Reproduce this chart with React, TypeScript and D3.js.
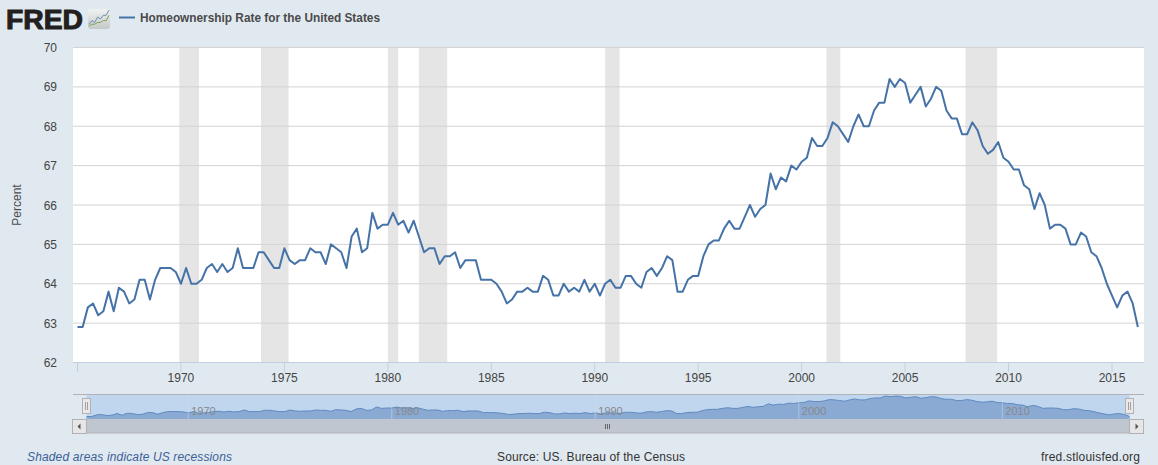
import React from "react";
import * as d3 from "d3";

const START_YEAR = 1965;
const rates = [
  62.9, 62.9, 63.4, 63.5, 63.2, 63.3, 63.8, 63.3, 63.9, 63.8, 63.5, 63.6,
  64.1, 64.1, 63.6, 64.1, 64.4, 64.4, 64.4, 64.3, 64.0, 64.4, 64.0, 64.0,
  64.1, 64.4, 64.5, 64.3, 64.5, 64.3, 64.4, 64.9, 64.4, 64.4, 64.4, 64.8,
  64.8, 64.6, 64.4, 64.4, 64.9, 64.6, 64.5, 64.6, 64.6, 64.9, 64.8, 64.8,
  64.5, 65.0, 64.9, 64.8, 64.4, 65.2, 65.4, 64.8, 64.9, 65.8, 65.4, 65.5,
  65.5, 65.8, 65.5, 65.6, 65.3, 65.6, 65.2, 64.8, 64.9, 64.9, 64.5, 64.7,
  64.7, 64.8, 64.4, 64.6, 64.6, 64.6, 64.1, 64.1, 64.1, 64.0, 63.8, 63.5,
  63.6, 63.8, 63.8, 63.9, 63.8, 63.8, 64.2, 64.1, 63.7, 63.7, 64.0, 63.8,
  63.9, 63.8, 64.1, 63.8, 64.0, 63.7, 64.0, 64.1, 63.9, 63.9, 64.2, 64.2,
  64.0, 63.9, 64.3, 64.4, 64.2, 64.4, 64.7, 64.6, 63.8, 63.8, 64.1, 64.2,
  64.2, 64.7, 65.0, 65.1, 65.1, 65.4, 65.6, 65.4, 65.4, 65.7, 66.0, 65.7,
  65.9, 66.0, 66.8, 66.4, 66.7, 66.6, 67.0, 66.9, 67.1, 67.2, 67.7, 67.5,
  67.5, 67.7, 68.1, 68.0, 67.8, 67.6, 68.0, 68.3, 68.0, 68.0, 68.4, 68.6,
  68.6, 69.2, 69.0, 69.2, 69.1, 68.6, 68.8, 69.0, 68.5, 68.7, 69.0, 68.9,
  68.4, 68.2, 68.2, 67.8, 67.8, 68.1, 67.9, 67.5, 67.3, 67.4, 67.6, 67.2,
  67.1, 66.9, 66.9, 66.5, 66.4, 65.9, 66.3, 66.0, 65.4, 65.5, 65.5, 65.4,
  65.0, 65.0, 65.3, 65.2, 64.8, 64.7, 64.4, 64.0, 63.7, 63.4, 63.7, 63.8,
  63.5, 62.9,
];
const recessions: [number, number][] = [
  [1969.92, 1970.87],
  [1973.87, 1975.2],
  [1980.0, 1980.5],
  [1981.5, 1982.87],
  [1990.5, 1991.2],
  [2001.2, 2001.87],
  [2007.92, 2009.45],
];
const yTicks = [62, 63, 64, 65, 66, 67, 68, 69, 70];
const xTicks = [1965, 1970, 1975, 1980, 1985, 1990, 1995, 2000, 2005, 2010, 2015];
const navTicks = [1970, 1980, 1990, 2000, 2010];
const logoLineA = [1, 3, 2, 5, 4, 6, 6, 9];
const logoLineB = [0, 1, 1, 2, 2, 3, 3, 6];

const FONT = "'Liberation Sans', Arial, sans-serif";
const BG = "#E1E9F0";
const LINE = "#4572A7";

type P = { t: number; v: number };
const points: P[] = rates.map((v, i) => ({ t: START_YEAR + i / 4, v }));

export default function App() {
  const x = d3.scaleLinear().domain([1965, 2015]).range([77.5, 1112]);
  const y = d3.scaleLinear().domain([62, 70]).range([362.5, 47.5]);
  const nx = d3.scaleLinear().domain([1965, 2016.25]).range([86.5, 1129.5]);
  const ny = d3.scaleLinear().domain([62.9, 69.2]).range([416.5, 396]);

  const line = d3.line<P>().x((d) => x(d.t)).y((d) => y(d.v));
  const navArea = d3.area<P>().x((d) => nx(d.t)).y0(419).y1((d) => ny(d.v));
  const navLine = d3.line<P>().x((d) => nx(d.t)).y((d) => ny(d.v));

  const lx = d3.scaleLinear().domain([0, logoLineA.length - 1]).range([89, 109]);
  const ly = d3.scaleLinear().domain([0, 9]).range([26, 10]);
  const logoLine = d3.line<number>().x((_, i) => lx(i)).y((d) => ly(d));

  return (
    <svg
      width={1158}
      height={465}
      style={{ position: "fixed", left: 0, top: 0, display: "block", fontFamily: FONT }}
    >
      <defs>
        <linearGradient id="logoBg" x1="0" y1="0" x2="0" y2="1">
          <stop offset="0" stopColor="#F0F3F2" />
          <stop offset="1" stopColor="#C4C8C6" />
        </linearGradient>
      </defs>
      <rect width={1158} height={465} fill={BG} />

      {/* header */}
      <text
        x={6}
        y={28.5}
        fontSize={27}
        fontWeight={700}
        fill="#231F20"
        stroke="#231F20"
        strokeWidth={1}
        textLength={77}
        lengthAdjust="spacingAndGlyphs"
      >
        FRED
      </text>
      <rect x={88} y={9} width={22} height={20} rx={3} fill="url(#logoBg)" />
      <path d={logoLine(logoLineA) ?? ""} fill="none" stroke="#6C8FB0" strokeWidth={1} />
      <path d={logoLine(logoLineB) ?? ""} fill="none" stroke="#7FA052" strokeWidth={1} />
      <line x1={119} x2={135} y1={17.5} y2={17.5} stroke={LINE} strokeWidth={2} />
      <text
        x={140}
        y={21.5}
        fontSize={12}
        fontWeight={700}
        fill="#4A4A4A"
        textLength={240}
        lengthAdjust="spacingAndGlyphs"
      >
        Homeownership Rate for the United States
      </text>

      {/* plot */}
      <rect x={73} y={47} width={1071} height={315.5} fill="#fff" />
      {recessions.map(([a, b]) => (
        <rect key={a} x={x(a)} y={47} width={x(b) - x(a)} height={315.5} fill="#E5E5E5" />
      ))}
      {yTicks.map((t) => (
        <g key={t}>
          {t !== 62 && (
            <line x1={73} x2={1144} y1={y(t)} y2={y(t)} stroke="#D3D3D3" strokeWidth={1} />
          )}
          <text x={57} y={y(t) + 4.5} fontSize={12} fill="#444" textAnchor="end">
            {t}
          </text>
        </g>
      ))}
      <path d={line(points) ?? ""} fill="none" stroke={LINE} strokeWidth={2} strokeLinejoin="round" />

      {/* x axis */}
      <line x1={73} x2={1144} y1={362.5} y2={362.5} stroke="#C0D0E0" strokeWidth={1} />
      {xTicks.map((t) => (
        <g key={t}>
          <line x1={x(t)} x2={x(t)} y1={362.5} y2={372} stroke="#C0D0E0" strokeWidth={1} />
          {t !== 1965 && (
            <text x={x(t)} y={382} fontSize={12} fill="#444" textAnchor="middle">
              {t}
            </text>
          )}
        </g>
      ))}
      <text
        transform="translate(20.5,205) rotate(-90)"
        fontSize={12}
        fill="#4D4D4D"
        textAnchor="middle"
      >
        Percent
      </text>

      {/* navigator */}
      <rect x={86.5} y={394} width={1043} height={25} fill="#C0D5EE" />
      <path d={navArea(points) ?? ""} fill="#8AAAD3" />
      <path d={navLine(points) ?? ""} fill="none" stroke="#5F8ABF" strokeWidth={1} />
      {navTicks.map((t) => (
        <g key={t}>
          <line x1={nx(t)} x2={nx(t)} y1={394} y2={419} stroke="#D5DEE9" strokeOpacity={0.5} />
          <text x={nx(t) + 3} y={415} fontSize={11} fill="#888">
            {t}
          </text>
        </g>
      ))}
      <line x1={73} x2={1144} y1={394.5} y2={394.5} stroke="#B2B1B6" />

      {/* scrollbar */}
      <rect x={86.5} y={419} width={1043} height={14} fill="#BFC6D0" />
      <line x1={73} x2={1144} y1={433} y2={433} stroke="#B2B1B6" />
      <rect x={72.5} y={419.5} width={14} height={14} fill="#E6E6E6" stroke="#B2B1B6" />
      <rect x={1129.5} y={419.5} width={14} height={14} fill="#E6E6E6" stroke="#B2B1B6" />
      <path d="M77.5 426.5 L80.5 423.5 L80.5 429.5 Z" fill="#555" />
      <path d="M1138.5 426.5 L1135.5 423.5 L1135.5 429.5 Z" fill="#555" />
      {[605, 607, 609].map((gx) => (
        <line key={gx} x1={gx + 0.5} x2={gx + 0.5} y1={424} y2={429} stroke="#666" />
      ))}
      {[86.5, 1129.5].map((hx) => (
        <g key={hx}>
          <rect x={hx - 4} y={398.5} width={8} height={15} fill="#EBE7E8" stroke="#B2B1B6" />
          <line x1={hx - 1} x2={hx - 1} y1={402} y2={410} stroke="#A0A0A0" />
          <line x1={hx + 1} x2={hx + 1} y1={402} y2={410} stroke="#A0A0A0" />
        </g>
      ))}

      {/* footer */}
      <text x={27} y={461} fontSize={12} fontStyle="italic" fill="#3D6098" textLength={205}>
        Shaded areas indicate US recessions
      </text>
      <text x={497} y={461} fontSize={12} fill="#333" textLength={188}>
        Source: US. Bureau of the Census
      </text>
      <text x={1041} y={461} fontSize={12} fill="#333" textLength={99}>
        fred.stlouisfed.org
      </text>
    </svg>
  );
}
